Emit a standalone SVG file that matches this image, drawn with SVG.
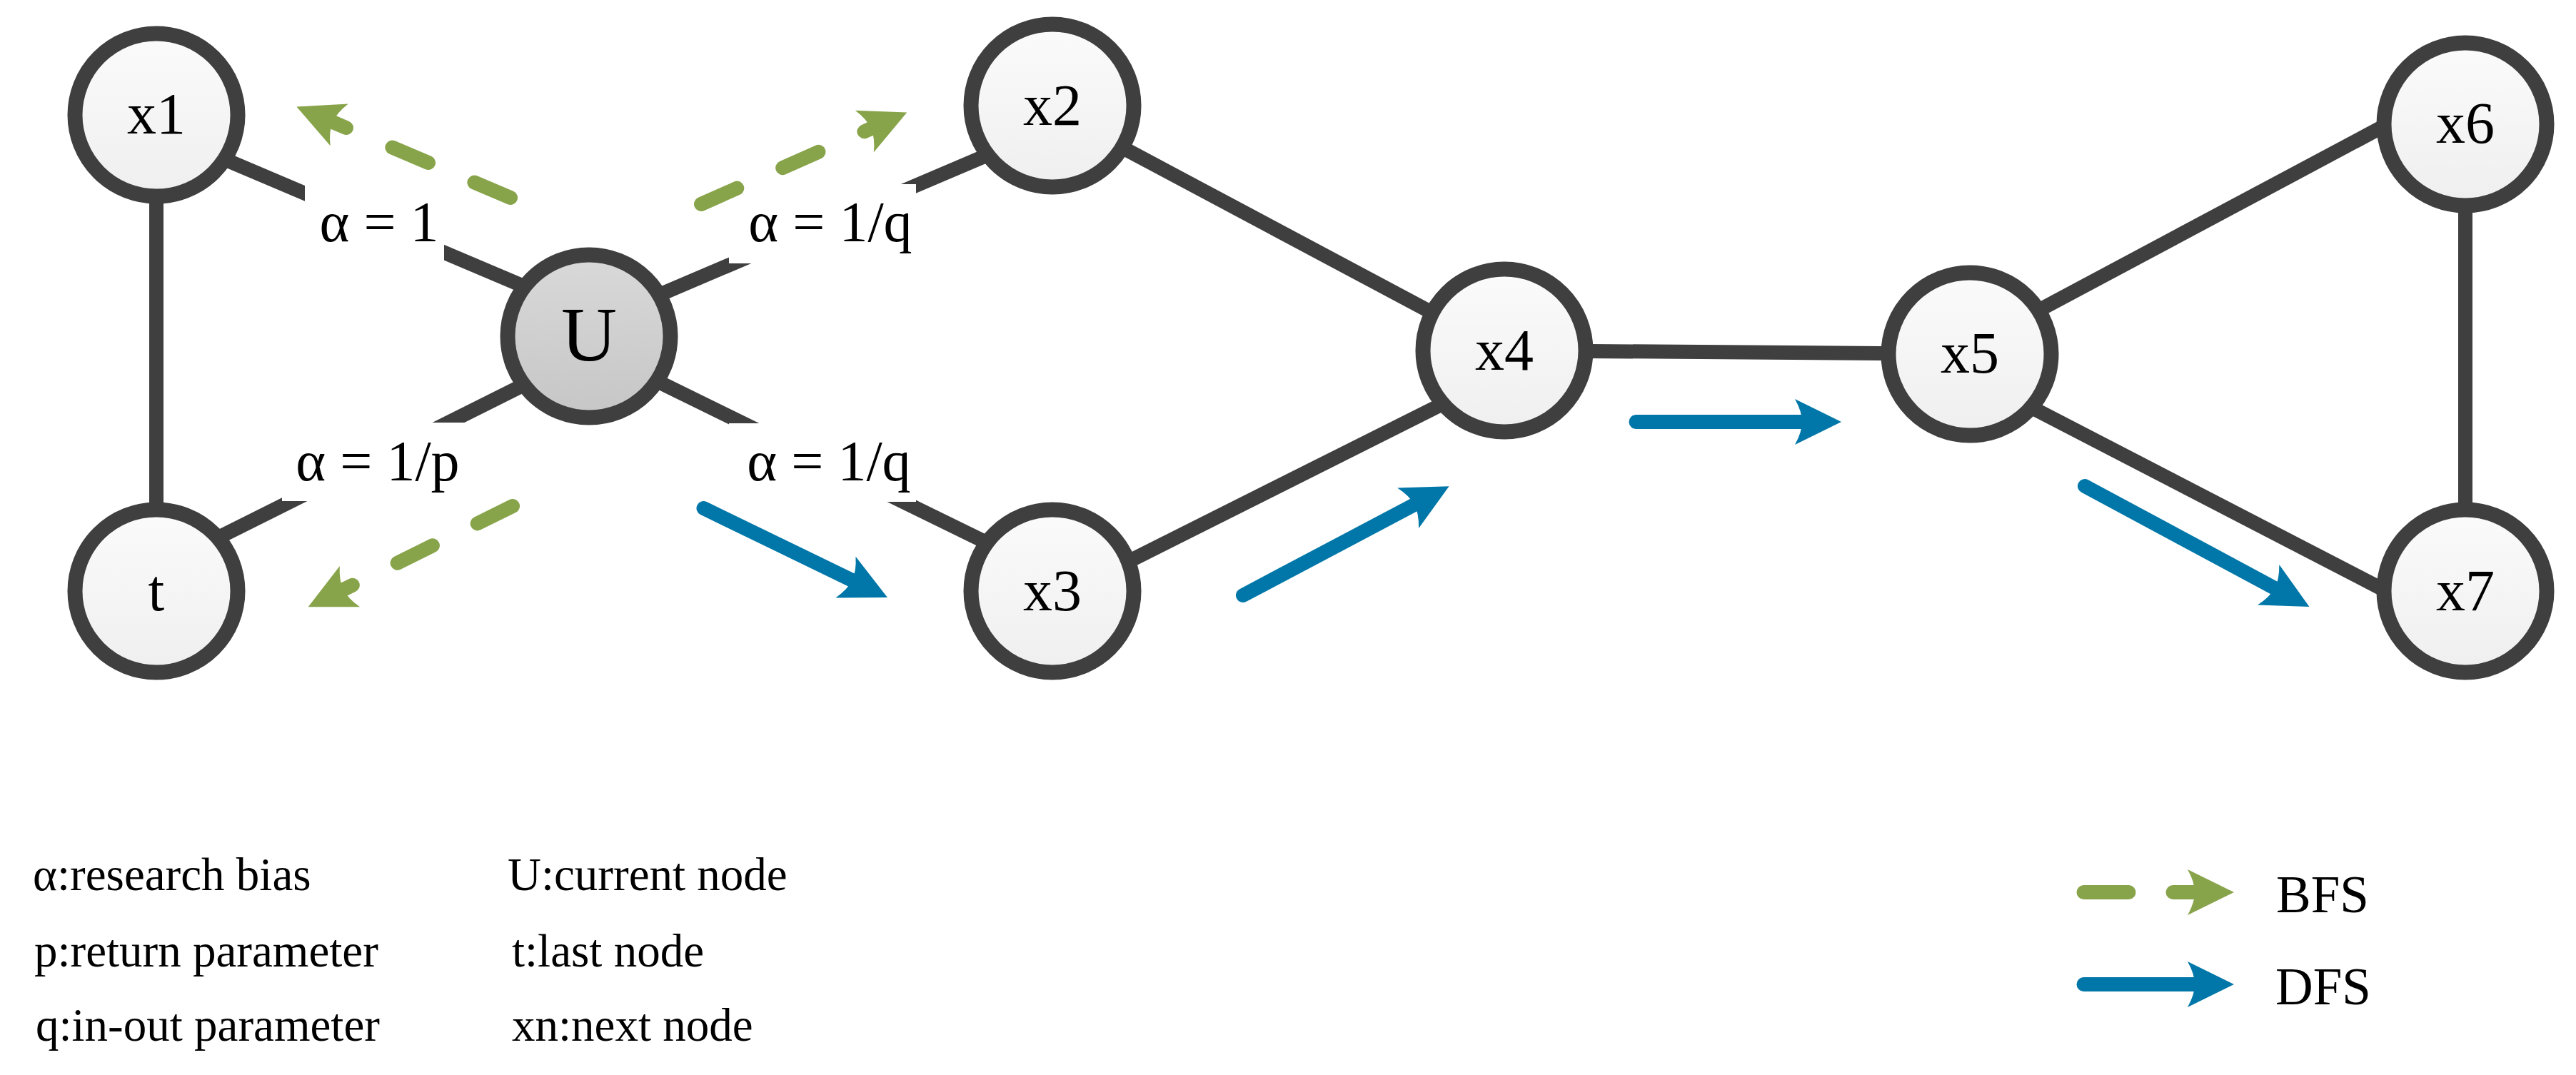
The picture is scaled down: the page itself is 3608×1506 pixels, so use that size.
<svg xmlns="http://www.w3.org/2000/svg" width="3608" height="1506" viewBox="0 0 3608 1506">
  <style>
    text { font-family: "Liberation Serif", "Times New Roman", serif; fill: #000; }
    .edge { stroke: #3f3f3f; stroke-width: 20; fill: none; }
    .node { stroke: #3f3f3f; stroke-width: 21; fill: url(#nodeFill); }
    .cur { stroke: #3f3f3f; stroke-width: 21; fill: url(#curFill); }
    .nlabel { font-size: 82px; text-anchor: middle; }
    .elabel { font-size: 80px; text-anchor: middle; }
    .lbox { fill: #ffffff; }
    .bfs { stroke: #88a44a; stroke-width: 20; stroke-linecap: round; fill: none; stroke-dasharray: 55 70; marker-end: url(#headG); }
    .dfs { stroke: #0077a8; stroke-width: 20; stroke-linecap: round; fill: none; marker-end: url(#headB); }
    .legend { font-size: 65px; }
    .legend2 { font-size: 73px; }
  </style>
  <defs>
    <linearGradient id="nodeFill" x1="0" y1="0" x2="0" y2="1">
      <stop offset="0" stop-color="#fbfbfb"/>
      <stop offset="1" stop-color="#efefef"/>
    </linearGradient>
    <linearGradient id="curFill" x1="0" y1="0" x2="0" y2="1">
      <stop offset="0" stop-color="#d9d9d9"/>
      <stop offset="1" stop-color="#c6c6c6"/>
    </linearGradient>
    <marker id="headG" markerUnits="userSpaceOnUse" markerWidth="80" markerHeight="80" viewBox="-15 -40 80 80" refX="0" refY="0" orient="auto" overflow="visible">
      <path d="M55,0 L-10,-32 Q0,-14 0,0 Q0,14 -10,32 Z" fill="#88a44a"/>
    </marker>
    <marker id="headB" markerUnits="userSpaceOnUse" markerWidth="80" markerHeight="80" viewBox="-15 -40 80 80" refX="0" refY="0" orient="auto" overflow="visible">
      <path d="M55,0 L-10,-32 Q0,-14 0,0 Q0,14 -10,32 Z" fill="#0077a8"/>
    </marker>
  </defs>

  <rect x="0" y="0" width="3608" height="1506" fill="#ffffff"/>

  <g id="connectors">
    <line class="edge" x1="219" y1="161" x2="219" y2="828"/>
    <line class="edge" x1="300" y1="217" x2="750" y2="408"/>
    <line class="edge" x1="290" y1="761" x2="760" y2="526"/>
    <line class="edge" x1="900" y1="423" x2="1400" y2="210"/>
    <line class="edge" x1="900" y1="524" x2="1400" y2="769"/>
    <line class="edge" x1="1490" y1="163" x2="2090" y2="483"/>
    <line class="edge" x1="1490" y1="832" x2="2090" y2="531"/>
    <line class="edge" x1="2107" y1="491" x2="2759" y2="496"/>
    <line class="edge" x1="2780" y1="475" x2="3400" y2="144"/>
    <line class="edge" x1="2780" y1="537" x2="3400" y2="858"/>
    <line class="edge" x1="3453" y1="174" x2="3453" y2="828"/>
  </g>

  <g id="edge-labels">
    <rect class="lbox" x="427" y="258" width="195" height="111"/>
    <text class="elabel" x="531" y="338">α = 1</text>
    <rect class="lbox" x="1021" y="258" width="262" height="111"/>
    <text class="elabel" x="1163" y="338">α = 1/q</text>
    <rect class="lbox" x="395" y="592" width="270" height="110"/>
    <text class="elabel" x="529" y="673">α = 1/p</text>
    <rect class="lbox" x="1021" y="593" width="262" height="110"/>
    <text class="elabel" x="1161" y="673">α = 1/q</text>
  </g>

  <g id="walk-arrows">
    <path class="bfs" d="M715,277 L466,171"/>
    <path class="bfs" d="M982,286 L1220,180"/>
    <path class="bfs" d="M718,709 L481,826"/>
    <path class="dfs" d="M985.5,712 L1193.5,813"/>
    <path class="dfs" d="M1741,834 L1981,707"/>
    <path class="dfs" d="M2291.5,591 L2524,591"/>
    <path class="dfs" d="M2920,681 L3186,824"/>
  </g>

  <g id="node-x1"><circle class="node" cx="219" cy="161" r="114"/><text class="nlabel" x="219" y="187">x1</text></g>
  <g id="node-t"><circle class="node" cx="219" cy="828" r="114"/><text class="nlabel" x="219" y="855">t</text></g>
  <g id="node-U"><circle class="cur" cx="825" cy="471" r="114"/><text class="nlabel" x="825" y="505" style="font-size:108px">U</text></g>
  <g id="node-x2"><circle class="node" cx="1474" cy="148" r="114"/><text class="nlabel" x="1474" y="175">x2</text></g>
  <g id="node-x3"><circle class="node" cx="1474" cy="828" r="114"/><text class="nlabel" x="1474" y="855">x3</text></g>
  <g id="node-x4"><circle class="node" cx="2107" cy="491" r="114"/><text class="nlabel" x="2107" y="518">x4</text></g>
  <g id="node-x5"><circle class="node" cx="2759" cy="496" r="114"/><text class="nlabel" x="2759" y="522">x5</text></g>
  <g id="node-x6"><circle class="node" cx="3453" cy="174" r="114"/><text class="nlabel" x="3453" y="200">x6</text></g>
  <g id="node-x7"><circle class="node" cx="3453" cy="828" r="114"/><text class="nlabel" x="3453" y="855">x7</text></g>

  <g id="legend-terms">
    <text class="legend" x="46" y="1247">α:research bias</text>
    <text class="legend" x="48" y="1354">p:return parameter</text>
    <text class="legend" x="50" y="1458">q:in-out parameter</text>
    <text class="legend" x="711" y="1247">U:current node</text>
    <text class="legend" x="717" y="1354">t:last node</text>
    <text class="legend" x="717" y="1458">xn:next node</text>
  </g>

  <g id="legend-arrows">
    <path class="bfs" d="M2918.5,1250 L3074,1250" style="stroke-dasharray:63 62"/>
    <text class="legend2" x="3188" y="1278">BFS</text>
    <path class="dfs" d="M2918.5,1379 L3074,1379"/>
    <text class="legend2" x="3187" y="1407">DFS</text>
  </g>
</svg>
